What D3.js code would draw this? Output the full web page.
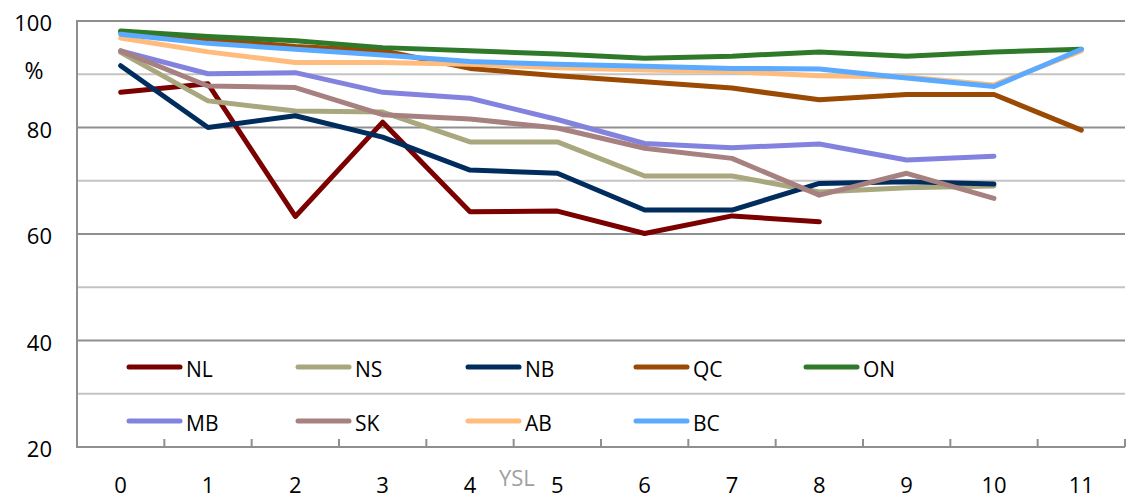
<!DOCTYPE html>
<html><head><meta charset="utf-8">
<script src="https://cdn.jsdelivr.net/npm/d3@7"></script>
<style>
html,body{margin:0;padding:0;background:#fff;}
svg{display:block;}
text{font-family:"Open Sans","Noto Sans",sans-serif;}
</style></head>
<body>
<svg id="chart" width="1126" height="499"></svg>
<script>
const categories = ["0","1","2","3","4","5","6","7","8","9","10","11"];
const yTicks = [20,30,40,50,60,70,80,90,100];
const yLabels = ["20","","40","","60","","80","%","100"];
const seriesNames = ["NL","NS","NB","QC","ON","MB","SK","AB","BC"];
const NL = [86.6,88.2,63.3,81.0,64.2,64.3,60.1,63.4,62.3,null,null,null];
const NS = [94.1,85.0,83.1,82.9,77.3,77.3,70.9,70.9,67.9,68.7,69.0,null];
const NB = [91.6,80.0,82.2,78.2,72.0,71.4,64.5,64.5,69.5,69.8,69.4,null];
const QC = [98.0,96.6,95.2,94.4,91.1,89.7,88.6,87.4,85.2,86.2,86.2,79.5];
const ON = [98.1,97.1,96.3,95.0,94.4,93.8,93.0,93.4,94.2,93.4,94.2,94.7];
const MB = [94.4,90.1,90.3,86.6,85.5,81.5,77.0,76.2,76.9,73.9,74.6,null];
const SK = [94.4,87.8,87.5,82.4,81.6,79.9,76.1,74.2,67.3,71.4,66.7,null];
const AB = [96.8,94.2,92.2,92.2,91.9,91.2,90.8,90.5,89.7,89.5,88.0,94.4];
const BC = [97.5,95.8,94.7,93.6,92.4,91.9,91.5,91.1,91.0,89.3,87.7,94.7];
const seriesValues = [NL,NS,NB,QC,ON,MB,SK,AB,BC];
const seriesColors = ["#7b0000","#a9a77e","#002d5e","#9a4a02","#2f7a2a","#8383df","#a78080","#ffbc7c","#5aabff"];

const svg = d3.select("#chart");
const L = 77, R = 1125, T = 21, B = 447;
const x = d3.scalePoint().domain(categories).range([L, R]).padding(0.5);
const y = d3.scaleLinear().domain([20, 100]).range([B, T]);
const step = x.step();

// gridlines
svg.append("g").selectAll("line").data(yTicks.filter(v => v > 20)).join("line")
  .attr("x1", L).attr("x2", R)
  .attr("y1", d => y(d)).attr("y2", d => y(d))
  .attr("stroke", d => (d % 20 === 0) ? "#8f8f8f" : "#c4c4c4")
  .attr("stroke-width", 2);

// y axis line
svg.append("line").attr("x1", L).attr("x2", L).attr("y1", T - 1).attr("y2", B + 1)
  .attr("stroke", "#8f8f8f").attr("stroke-width", 2);
// x axis line
svg.append("line").attr("x1", L).attr("x2", R).attr("y1", B).attr("y2", B)
  .attr("stroke", "#8f8f8f").attr("stroke-width", 2);
// x ticks at category boundaries
const bounds = categories.map(c => x(c) + step / 2);
svg.append("g").selectAll("line").data(bounds).join("line")
  .attr("x1", d => d).attr("x2", d => d).attr("y1", B - 8).attr("y2", B)
  .attr("stroke", "#8f8f8f").attr("stroke-width", 2);

// y labels
svg.append("g").selectAll("text").data(yTicks.map((v, i) => ({v, t: yLabels[i]})).filter(d => d.t !== "")).join("text")
  .attr("x", d => d.t === "%" ? 34 : 52)
  .attr("y", d => d.t === "%" ? y(d.v) + 5 : y(d.v) + 10)
  .attr("text-anchor", d => d.t === "%" ? "middle" : "end")
  .attr("font-size", d => d.t === "%" ? 23 : 22).attr("fill", "#000")
  .text(d => d.t);

// x labels
svg.append("g").selectAll("text").data(categories).join("text")
  .attr("x", d => x(d)).attr("y", 493)
  .attr("text-anchor", "middle").attr("font-size", 22).attr("fill", "#000")
  .text(d => d);

// axis title
svg.append("text").attr("x", 499).attr("y", 486).attr("font-size", 22)
  .attr("fill", "#a0a0a0").text("YSL");

// lines
const line = d3.line().defined(d => d.v !== null).x(d => x(d.c)).y(d => y(d.v));
seriesValues.forEach((vals, i) => {
  svg.append("path")
    .datum(vals.map((v, j) => ({c: categories[j], v})))
    .attr("d", line)
    .attr("fill", "none")
    .attr("stroke", seriesColors[i])
    .attr("stroke-width", 5)
    .attr("stroke-linejoin", "round")
    .attr("stroke-linecap", "round");
});

// legend
const colX = [127, 296, 466, 634, 804];
const rowY = [367, 421];
seriesNames.forEach((name, i) => {
  const cx = colX[i % 5], cy = rowY[Math.floor(i / 5)];
  const g = svg.append("g");
  g.append("line").attr("x1", cx + 2).attr("x2", cx + 53).attr("y1", cy).attr("y2", cy)
    .attr("stroke", seriesColors[i]).attr("stroke-width", 5).attr("stroke-linecap", "round");
  g.append("text").attr("x", cx + 59).attr("y", cy + 10).attr("font-size", 21)
    .attr("fill", "#000").text(name);
});
</script>
</body></html>
